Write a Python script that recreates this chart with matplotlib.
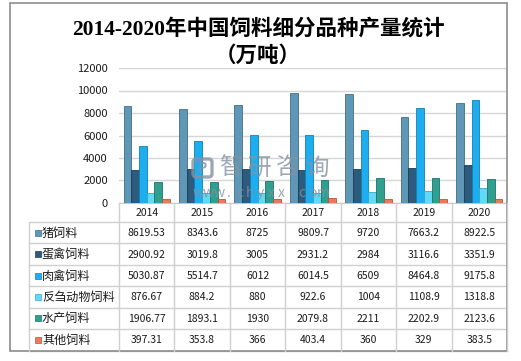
import matplotlib
matplotlib.use('Agg')
import matplotlib.pyplot as plt
from matplotlib.patches import Rectangle, FancyBboxPatch
import numpy as np

plt.rcParams['font.family'] = ['Noto Sans CJK SC', 'DejaVu Sans']

years = ['2014', '2015', '2016', '2017', '2018', '2019', '2020']
series_names = ['猪饲料', '蛋禽饲料', '肉禽饲料', '反刍动物饲料', '水产饲料', '其他饲料']
pig = [8619.53, 8343.6, 8725, 9809.7, 9720, 7663.2, 8922.5]
egg_poultry = [2900.92, 3019.8, 3005, 2931.2, 2984, 3116.6, 3351.9]
meat_poultry = [5030.87, 5514.7, 6012, 6014.5, 6509, 8464.8, 9175.8]
ruminant = [876.67, 884.2, 880, 922.6, 1004, 1108.9, 1318.8]
aquatic = [1906.77, 1893.1, 1930, 2079.8, 2211, 2202.9, 2123.6]
other = [397.31, 353.8, 366, 403.4, 360, 329, 383.5]
yticks = [0, 2000, 4000, 6000, 8000, 10000, 12000]

series = [pig, egg_poultry, meat_poultry, ruminant, aquatic, other]
colors = ['#5f97b6', '#2d5b7d', '#1daef0', '#62d9f6', '#2f9f90', '#ea7a5c']
edges = ['#3f6f88', '#1c3d55', '#1380b4', '#35a9c8', '#1f7267', '#b95238']

W, H = 521, 361
fig = plt.figure(figsize=(W / 100, H / 100), dpi=100)
fig.patch.set_facecolor('white')

# main plot area (pixel coords)
L, R, T, B = 119, 507, 68, 203
ax = fig.add_axes([L / W, 1 - B / H, (R - L) / W, (B - T) / H])
x = np.arange(len(years))
bw = 0.139
for j, (vals, c, ec) in enumerate(zip(series, colors, edges)):
    ax.bar(x + (j - 2.5) * bw, vals, width=bw, color=c, edgecolor=ec,
           linewidth=0.6, zorder=3)
ax.set_xlim(-0.5, len(years) - 0.5)
ax.set_ylim(0, 12000)
ax.set_yticks(yticks)
ax.set_yticklabels([str(v) for v in yticks], fontsize=8, color='#1a1a1a')
ax.tick_params(axis='y', length=0, pad=8)
ax.set_xticks([])
ax.grid(axis='y', color='#d6d6d6', linewidth=1, zorder=0)
for s in ['left', 'right', 'top']:
    ax.spines[s].set_visible(False)
ax.spines['bottom'].set_color('#c8c8c8')
ax.set_facecolor('none')

# overlay in pixel coordinates
ov = fig.add_axes([0, 0, 1, 1], zorder=5)
ov.set_xlim(0, W)
ov.set_ylim(H, 0)
ov.axis('off')
ov.patch.set_alpha(0)

# title
ov.text(258, 29, '2014-2020年中国饲料细分品种产量统计', ha='center', va='center',
        fontsize=15.5, color='#000000', fontweight='bold',
        family=['Liberation Serif', 'Noto Sans CJK SC'])
ov.text(258, 55, '（万吨）', ha='center', va='center', fontsize=15.5,
        color='#000000', fontweight='bold', family=['Noto Sans CJK SC'])

# table
lc = '#d0d0d0'
cw = (R - L) / len(years)
col_x = [L + k * cw for k in range(len(years) + 1)]
hdr_top, hdr_bot, tbl_bot = B, 222, 350.5
rh = (tbl_bot - hdr_bot) / len(series)
row_y = [hdr_bot + i * rh for i in range(len(series) + 1)]
for yy in row_y:
    ov.plot([29, R], [yy, yy], color=lc, lw=1, zorder=1)
ov.plot([29, 29], [hdr_bot, tbl_bot], color=lc, lw=1)
for xx in col_x:
    ov.plot([xx, xx], [hdr_top, tbl_bot], color=lc, lw=1)

for k, yr in enumerate(years):
    ov.text(col_x[k] + cw / 2, (hdr_top + hdr_bot) / 2 + 0.5, yr, ha='center',
            va='center', fontsize=7.5, color='#1a1a1a')

for i, (name, vals, c, ec) in enumerate(zip(series_names, series, colors, edges)):
    yc = row_y[i] + rh / 2
    ov.add_patch(Rectangle((34.5, yc - 3), 6, 6, facecolor=c, edgecolor=ec, lw=0.5))
    ov.text(42, yc + 0.5, name, ha='left', va='center', fontsize=8.7,
            color='#1a1a1a')
    for k, v in enumerate(vals):
        ov.text(col_x[k] + cw / 2, yc + 0.5, '{:g}'.format(v), ha='center',
                va='center', fontsize=7.5, color='#1a1a1a')

# outer border
ov.add_patch(Rectangle((10, 3), R - 10, tbl_bot - 3, fill=False,
                       edgecolor='#8c8c8c', lw=1.2))

# watermark
wm = '#8492a2'
ov.add_patch(FancyBboxPatch((193, 159), 19, 18, boxstyle='round,pad=0,rounding_size=3',
                            fill=False, edgecolor=wm, lw=2.4, alpha=0.8))
ov.text(202.5, 168, 'P', ha='center', va='center', fontsize=10, color=wm,
        alpha=0.85, fontweight='bold')
for i, ch in enumerate('智研咨询'):
    ov.text(231 + i * 28.5, 168, ch, ha='center', va='center', fontsize=17,
            color=wm, alpha=0.8)
for i, ch in enumerate('www.chyxx.com'):
    ov.text(198 + i * 10.4, 193, ch, ha='center', va='center', fontsize=10,
            color=wm, alpha=0.8)

fig.savefig('out.png', dpi=100)
